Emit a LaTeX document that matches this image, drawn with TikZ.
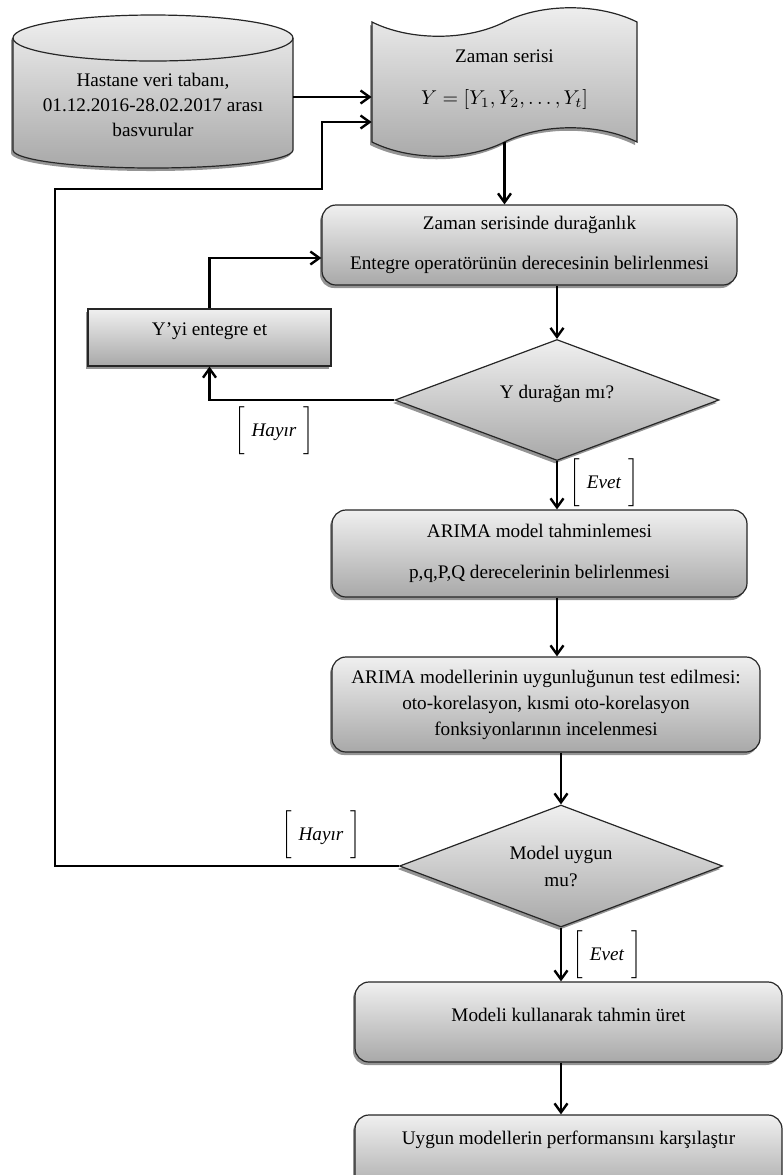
\documentclass[tikz,border=0pt]{standalone}
\usepackage{fontspec}
\setmainfont{Liberation Serif}
\usepackage{amsmath}
\usetikzlibrary{shapes.geometric, shadows, arrows.meta}

\newcommand{\brlabel}[1]{$\left[\rule[-9pt]{0pt}{23pt}\hspace{3.5pt}\textit{#1}\hspace{3.5pt}\right]$}

\begin{document}
\begin{tikzpicture}[x=0.5pt, y=0.5pt,
	>={Straight Barb[length=4.5pt,width=6.5pt]},
	font=\fontsize{9.6}{12}\selectfont,
	gfill/.style={
		top color=black!6, bottom color=black!34, % General look of all shapes
		draw=black!85, line width=0.6pt,
		drop shadow={shadow xshift=-1pt, shadow yshift=-1.5pt, fill=black!60, opacity=0.7},
	},
	rbox/.style={gfill, rounded corners=7pt, align=center, inner sep=0pt},
	sbox/.style={gfill, align=center, inner sep=0pt},
	dec/.style={gfill, diamond, aspect=2.7, align=center, inner sep=0pt},
	flow/.style={->, line width=1.2pt},
	lbl/.style={inner sep=0pt},
]
	\useasboundingbox (0,0) rectangle (783,-1175);

	\shade[gfill] (13,-38) -- (13,-150) arc[start angle=180, end angle=360, x radius=70pt, y radius=9pt]
		-- (293,-38) arc[start angle=0, end angle=180, x radius=70pt, y radius=11.5pt] -- cycle;
	\draw[black!85, line width=0.6pt] (13,-38) arc[start angle=180, end angle=360, x radius=70pt, y radius=11.5pt];
	\shade[gfill] (372,-22) .. controls (410,-41) and (467,-41) .. (504.5,-22)
		.. controls (542,-3) and (599,-3) .. (637,-22) -- (637,-142)
		.. controls (599,-123) and (542,-123) .. (504.5,-142)
		.. controls (467,-161) and (410,-161) .. (372,-142) -- cycle;

	\node[lbl, align=center, minimum width=140pt, font=\fontsize{9.6}{12.5}\selectfont] (db) at (153,-105)
		{Hastane veri tabanı,\\01.12.2016-28.02.2017 arası\\basvurular};
	\node[lbl, align=center, minimum width=132.5pt, minimum height=62pt] (ts) at (504.5,-80)
		{Zaman serisi\\[9pt]$Y=[Y_1, Y_2, \dots ,Y_t]$};
	\node[rbox, minimum width=207.5pt, minimum height=40pt] (dur) at (529.5,-245)
		{Zaman serisinde durağanlık\\[8pt]Entegre operatörünün derecesinin belirlenmesi};
	\node[sbox, minimum width=121.5pt, minimum height=28.5pt, text height=7pt, text depth=9.5pt] (yint) at (209.5,-337.5)
		{Y’yi entegre et};
	\node[dec, minimum width=162pt, minimum height=60.5pt, text height=7pt, text depth=9pt] (dm1) at (557,-400) {Y durağan mı?};
	\node[rbox, minimum width=207.5pt, minimum height=43.5pt] (arima1) at (539.5,-553.5)
		{ARIMA model tahminlemesi\\[8.5pt]p,q,P,Q derecelerinin belirlenmesi};
	\node[rbox, minimum width=214pt, minimum height=47.5pt, font=\fontsize{9.6}{13}\selectfont] (arima2) at (546,-704.5)
		{ARIMA modellerinin uygunluğunun test edilmesi:\\oto-korelasyon, kısmi oto-korelasyon\\fonksiyonlarının incelenmesi};
	\node[dec, minimum width=161.5pt, minimum height=61pt, font=\fontsize{9.6}{13.5}\selectfont] (dm2) at (561,-866)
		{Model uygun\\mu?};
	\node[rbox, minimum width=213.5pt, minimum height=40pt, text height=7pt, text depth=8pt] (model) at (568.5,-1022)
		{Modeli kullanarak tahmin üret};
	\node[rbox, minimum width=213.5pt, minimum height=40pt, text height=7pt, text depth=18pt] (last) at (568.5,-1155)
		{Uygun modellerin performansını karşılaştır};

	\node[lbl] (no1) at (274,-431) {\brlabel{Hayır}};
	\node[lbl] (yes1) at (604,-483) {\brlabel{Evet}};
	\node[lbl] (no2) at (321,-835) {\brlabel{Hayır}};
	\node[lbl] (yes2) at (607,-955) {\brlabel{Evet}};

	\draw[flow] ([yshift=4pt]db.east) -- ([yshift=4pt]db.east -| ts.west);
	\draw[flow] (dm2.west) -| (55,-189) -| (322,-122) -- ([yshift=-21pt]ts.west);
	\draw[flow] (ts.south) -- (ts.south |- dur.north);
	\draw[flow] (yint.north) |- ([yshift=-6.5pt]dur.west);
	\draw[flow] (dur.south -| dm1.north) -- (dm1.north);
	\draw[flow] (dm1.west) -| (yint.south);
	\draw[flow] (dm1.south) -- (dm1.south |- arima1.north);
	\draw[flow] (arima1.south -| dm1.south) -- (dm1.south |- arima2.north);
	\draw[flow] (arima2.south -| dm2.north) -- (dm2.north);
	\draw[flow] (dm2.south) -- (dm2.south |- model.north);
	\draw[flow] (model.south -| dm2.south) -- (dm2.south |- last.north);

\end{tikzpicture}
\end{document}
